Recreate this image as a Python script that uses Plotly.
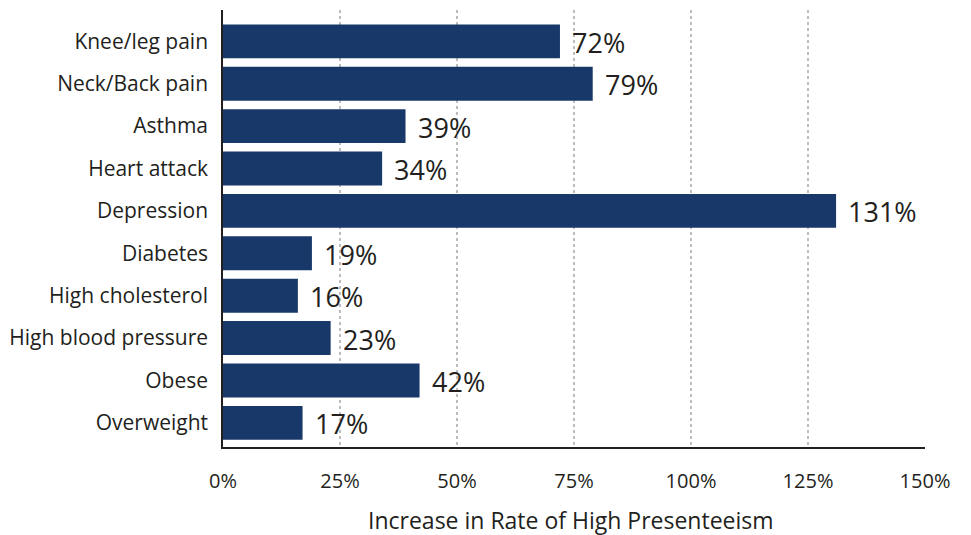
import plotly.graph_objects as go

categories = ["Knee/leg pain", "Neck/Back pain", "Asthma", "Heart attack", "Depression",
              "Diabetes", "High cholesterol", "High blood pressure", "Obese", "Overweight"]
values = [72, 79, 39, 34, 131, 19, 16, 23, 42, 17]
labels = [f"{v}%" for v in values]
tick_vals = [0, 25, 50, 75, 100, 125, 150]
tick_text = [f"{t}%" for t in tick_vals]
x_title = "Increase in Rate of High Presenteeism"

cats = categories[::-1]
vals = values[::-1]
labs = labels[::-1]

FONT = "Open Sans"
TXT = "#231f20"

fig = go.Figure(go.Bar(
    x=vals, y=cats, orientation="h",
    marker=dict(color="#19386a", line=dict(width=0)),
    hoverinfo="skip",
))

for c, v, l in zip(cats, vals, labs):
    fig.add_annotation(x=v, y=c, text=l, showarrow=False, xanchor="left", yanchor="middle",
                       xshift=10, yshift=-1, font=dict(family=FONT, size=27, color=TXT))

fig.add_annotation(x=0.5, y=-0.168, xref="paper", yref="paper", text=x_title,
                   showarrow=False, xanchor="center", yanchor="middle", xshift=-3,
                   font=dict(family=FONT, size=23, color=TXT))

fig.update_layout(
    width=971, height=535,
    margin=dict(l=223, r=46, t=10, b=88),
    plot_bgcolor="white", paper_bgcolor="white",
    bargap=0.2,
    showlegend=False,
    font=dict(family=FONT, color=TXT),
    xaxis=dict(
        range=[0, 150], tickvals=tick_vals, ticktext=tick_text,
        showgrid=True, gridcolor="#bdbdbd", griddash="dot", gridwidth=1.5,
        showline=True, linecolor="#231f20", linewidth=1.5,
        ticks="outside", ticklen=15, tickcolor="rgba(0,0,0,0)",
        tickfont=dict(family=FONT, size=20, color=TXT),
        zeroline=False, fixedrange=True, automargin=False,
    ),
    yaxis=dict(
        range=[-0.57, 9.74],
        showgrid=False, showline=True, linecolor="#231f20", linewidth=1.5,
        ticks="outside", ticklen=9, tickcolor="rgba(0,0,0,0)",
        tickfont=dict(family=FONT, size=21, color=TXT),
        fixedrange=True, automargin=False,
    ),
)

fig.write_html("out.html")
